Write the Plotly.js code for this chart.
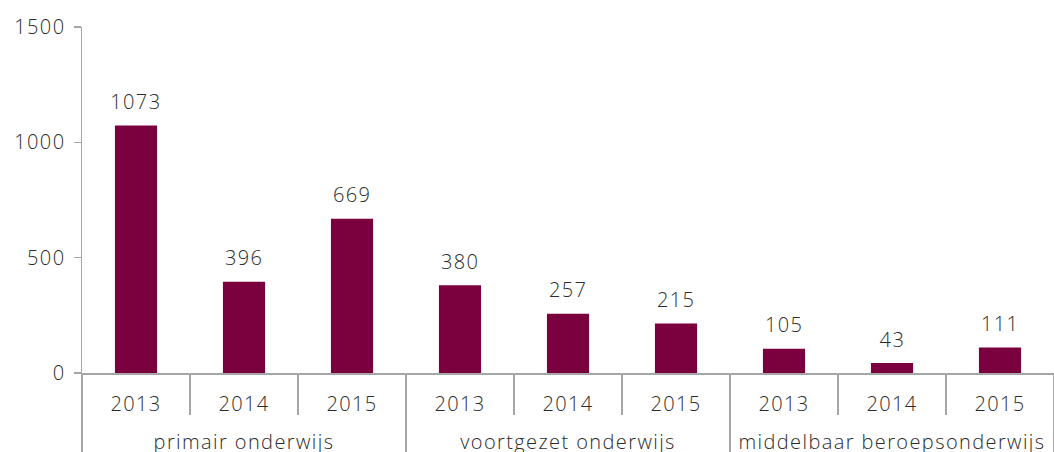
<!DOCTYPE html>
<html>
<head>
<meta charset="utf-8">
<script src="https://cdn.plot.ly/plotly-3.0.1.min.js"></script>
<style>
html,body{margin:0;padding:0;background:#fff;}
.main-svg text{letter-spacing:1.4px;}
</style>
</head>
<body>
<div id="chart" style="width:1054px;height:452px;"></div>
<script>
const groups = ["primair onderwijs","primair onderwijs","primair onderwijs",
  "voortgezet onderwijs","voortgezet onderwijs","voortgezet onderwijs",
  "middelbaar beroepsonderwijs","middelbaar beroepsonderwijs","middelbaar beroepsonderwijs"];
const years = ["2013","2014","2015","2013","2014","2015","2013","2014","2015"];
const values = [1073, 396, 669, 380, 257, 215, 105, 43, 111];
const yTicks = [0, 500, 1000, 1500];

const FONT = "Open Sans";
const TXT = "#2b2b2b";
const AX = "#a6a6a6";
const FS = 20;

// a tiny invisible second line under each year label gives the group row its spacing
const yearLabels = years.map(y => y + "<br><span style='font-size:2px'>\u00a0</span>");

const trace = {
  type: "bar",
  x: [groups, yearLabels],
  y: values,
  marker: {color: "#7b003e"},
  width: 0.39,
  hoverinfo: "skip"
};

const annotations = values.map((v, i) => ({
  x: i, y: v, xref: "x", yref: "y",
  text: String(v), showarrow: false,
  yanchor: "middle", yshift: 24,
  font: {family: FONT, size: FS, color: TXT, weight: 300}
}));

const layout = {
  width: 1054, height: 452,
  margin: {l: 82, r: 0, t: 27, b: 79},
  paper_bgcolor: "#fff", plot_bgcolor: "#fff",
  showlegend: false,
  font: {family: FONT, size: FS, color: TXT, weight: 300},
  xaxis: {
    type: "multicategory",
    showline: true, linecolor: AX, linewidth: 1.5,
    ticks: "outside", tickson: "boundaries", ticklen: 40, tickcolor: AX, tickwidth: 1.5,
    ticklabelstandoff: 12,
    showdividers: true, dividercolor: AX, dividerwidth: 1.5,
    showgrid: false, zeroline: false, automargin: false,
    tickfont: {family: FONT, size: FS, color: TXT, weight: 300}
  },
  yaxis: {
    range: [0, 1500],
    tickvals: yTicks,
    ticktext: yTicks.map(String),
    showline: true, linecolor: AX, linewidth: 1.5,
    ticks: "outside", ticklen: 7, tickcolor: AX, tickwidth: 1.5,
    ticklabelstandoff: 4,
    showgrid: false, zeroline: false, automargin: false,
    tickfont: {family: FONT, size: FS, color: TXT, weight: 300}
  },
  annotations: annotations
};

Plotly.newPlot("chart", [trace], layout, {displayModeBar: false, staticPlot: true});
</script>
</body>
</html>
